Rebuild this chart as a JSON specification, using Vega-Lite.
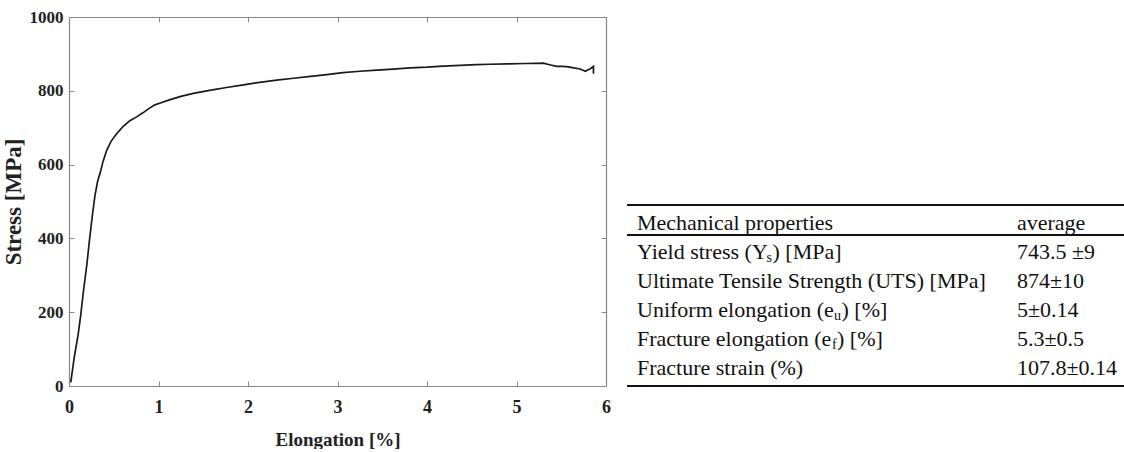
{
  "$schema": "https://vega.github.io/schema/vega-lite/v6.json",
  "background": "white",
  "padding": {"left": 2, "top": 8, "right": 0, "bottom": 0},
  "spacing": 15,
  "config": {"view": {"stroke": null}, "font": "Liberation Serif"},
  "hconcat": [
    {
      "width": 537,
      "height": 369,
      "data": {"values": [
        {"i": 1, "elongation": 0.02, "stress": 10},
        {"i": 2, "elongation": 0.06, "stress": 80},
        {"i": 3, "elongation": 0.10, "stress": 136},
        {"i": 4, "elongation": 0.13, "stress": 190},
        {"i": 5, "elongation": 0.16, "stress": 254},
        {"i": 6, "elongation": 0.20, "stress": 330},
        {"i": 7, "elongation": 0.23, "stress": 398},
        {"i": 8, "elongation": 0.26, "stress": 460},
        {"i": 9, "elongation": 0.29, "stress": 516},
        {"i": 10, "elongation": 0.32, "stress": 555},
        {"i": 11, "elongation": 0.35, "stress": 579},
        {"i": 12, "elongation": 0.38, "stress": 608},
        {"i": 13, "elongation": 0.42, "stress": 638},
        {"i": 14, "elongation": 0.47, "stress": 663},
        {"i": 15, "elongation": 0.53, "stress": 683},
        {"i": 16, "elongation": 0.60, "stress": 702},
        {"i": 17, "elongation": 0.68, "stress": 719},
        {"i": 18, "elongation": 0.76, "stress": 730},
        {"i": 19, "elongation": 0.83, "stress": 741},
        {"i": 20, "elongation": 0.90, "stress": 753},
        {"i": 21, "elongation": 0.96, "stress": 762},
        {"i": 22, "elongation": 1.02, "stress": 767},
        {"i": 23, "elongation": 1.13, "stress": 776},
        {"i": 24, "elongation": 1.25, "stress": 785},
        {"i": 25, "elongation": 1.39, "stress": 793},
        {"i": 26, "elongation": 1.57, "stress": 801},
        {"i": 27, "elongation": 1.76, "stress": 809},
        {"i": 28, "elongation": 1.95, "stress": 816},
        {"i": 29, "elongation": 2.13, "stress": 823},
        {"i": 30, "elongation": 2.32, "stress": 829},
        {"i": 31, "elongation": 2.51, "stress": 834},
        {"i": 32, "elongation": 2.70, "stress": 839},
        {"i": 33, "elongation": 2.88, "stress": 844},
        {"i": 34, "elongation": 3.06, "stress": 849},
        {"i": 35, "elongation": 3.25, "stress": 853},
        {"i": 36, "elongation": 3.44, "stress": 856},
        {"i": 37, "elongation": 3.62, "stress": 859},
        {"i": 38, "elongation": 3.81, "stress": 862},
        {"i": 39, "elongation": 4.00, "stress": 864},
        {"i": 40, "elongation": 4.18, "stress": 867},
        {"i": 41, "elongation": 4.37, "stress": 869},
        {"i": 42, "elongation": 4.55, "stress": 871},
        {"i": 43, "elongation": 4.70, "stress": 872},
        {"i": 44, "elongation": 4.90, "stress": 873},
        {"i": 45, "elongation": 5.10, "stress": 874},
        {"i": 46, "elongation": 5.30, "stress": 875},
        {"i": 47, "elongation": 5.38, "stress": 870},
        {"i": 48, "elongation": 5.45, "stress": 866},
        {"i": 49, "elongation": 5.52, "stress": 866},
        {"i": 50, "elongation": 5.58, "stress": 865},
        {"i": 51, "elongation": 5.64, "stress": 862},
        {"i": 52, "elongation": 5.71, "stress": 859},
        {"i": 53, "elongation": 5.77, "stress": 853},
        {"i": 54, "elongation": 5.80, "stress": 857},
        {"i": 55, "elongation": 5.82, "stress": 859},
        {"i": 56, "elongation": 5.86, "stress": 866},
        {"i": 57, "elongation": 5.86, "stress": 846}
      ]},
      "layer": [
        {
          "mark": {"type": "line", "color": "#1a1a1a", "strokeWidth": 1.7},
          "encoding": {
            "x": {
              "field": "elongation", "type": "quantitative",
              "scale": {"domain": [0, 6], "nice": false, "zero": false},
              "axis": {
                "orient": "bottom", "title": "Elongation [%]", "values": [0, 1, 2, 3, 4, 5, 6], "format": "d",
                "grid": false, "tickSize": -5, "tickColor": "#888", "domainColor": "#888", "domainWidth": 1.2,
                "labelFont": "Liberation Serif", "labelFontWeight": "bold", "labelFontSize": 18, "labelColor": "#222",
                "labelPadding": 17, "labelFlush": false,
                "titleFont": "Liberation Serif", "titleFontWeight": "bold", "titleFontSize": 19, "titleColor": "#222", "titlePadding": 14
              }
            },
            "y": {
              "field": "stress", "type": "quantitative",
              "scale": {"domain": [0, 1000], "nice": false},
              "axis": {
                "orient": "left", "title": "Stress [MPa]", "values": [0, 200, 400, 600, 800, 1000], "format": "d",
                "grid": false, "tickSize": -5, "tickColor": "#888", "domainColor": "#888", "domainWidth": 1.2,
                "labelFont": "Liberation Serif", "labelFontWeight": "bold", "labelFontSize": 17, "labelColor": "#222",
                "labelPadding": 11, "labelFlush": false,
                "titleFont": "Liberation Serif", "titleFontWeight": "bold", "titleFontSize": 23, "titleColor": "#222", "titlePadding": 4
              }
            },
            "order": {"field": "i", "type": "quantitative"}
          }
        },
        {
          "mark": {"type": "line", "opacity": 0},
          "encoding": {
            "x": {
              "field": "elongation", "type": "quantitative",
              "axis": {"orient": "top", "title": null, "labels": false, "values": [0, 1, 2, 3, 4, 5, 6], "grid": false, "tickSize": -5, "tickColor": "#888", "domainColor": "#888", "domainWidth": 1.2}
            },
            "y": {
              "field": "stress", "type": "quantitative",
              "axis": {"orient": "right", "title": null, "labels": false, "values": [0, 200, 400, 600, 800, 1000], "grid": false, "tickSize": -5, "tickColor": "#888", "domainColor": "#888", "domainWidth": 1.2}
            },
            "order": {"field": "i", "type": "quantitative"}
          }
        }
      ],
      "resolve": {"axis": {"x": "independent", "y": "independent"}}
    },
    {
      "width": 497,
      "height": 369,
      "data": {"values": [
        {"row": 0, "col": "property", "part": "main", "text": "Mechanical properties"},
        {"row": 0, "col": "average", "part": "main", "text": "average"},
        {"row": 1, "col": "property", "part": "main", "text": "Yield stress (Y"},
        {"row": 1, "col": "property", "part": "sub", "text": "s"},
        {"row": 1, "col": "property", "part": "suffix", "text": ") [MPa]"},
        {"row": 1, "col": "average", "part": "main", "text": "743.5 ±9"},
        {"row": 2, "col": "property", "part": "main", "text": "Ultimate Tensile Strength (UTS) [MPa]"},
        {"row": 2, "col": "average", "part": "main", "text": "874±10"},
        {"row": 3, "col": "property", "part": "main", "text": "Uniform elongation (e"},
        {"row": 3, "col": "property", "part": "sub", "text": "u"},
        {"row": 3, "col": "property", "part": "suffix", "text": ") [%]"},
        {"row": 3, "col": "average", "part": "main", "text": "5±0.14"},
        {"row": 4, "col": "property", "part": "main", "text": "Fracture elongation (e"},
        {"row": 4, "col": "property", "part": "sub", "text": "f"},
        {"row": 4, "col": "property", "part": "suffix", "text": ") [%]"},
        {"row": 4, "col": "average", "part": "main", "text": "5.3±0.5"},
        {"row": 5, "col": "property", "part": "main", "text": "Fracture strain (%)"},
        {"row": 5, "col": "average", "part": "main", "text": "107.8±0.14"}
      ]},
      "encoding": {
        "y": {"field": "row", "type": "quantitative", "scale": {"domain": [-7.13, 5.64], "reverse": true, "nice": false, "zero": false}, "axis": null},
        "x": {"field": "col", "type": "nominal", "scale": {"type": "point", "domain": ["property", "average"], "range": [10, 390], "padding": 0}, "axis": null}
      },
      "layer": [
        {
          "transform": [{"filter": "datum.part == 'main'"}],
          "mark": {"type": "text", "align": "left", "baseline": "middle", "font": "Liberation Serif", "fontSize": 22, "color": "#111"},
          "encoding": {"text": {"field": "text"}}
        },
        {
          "transform": [{"filter": "datum.part == 'sub' && datum.row == 1"}],
          "mark": {"type": "text", "align": "left", "baseline": "middle", "font": "Liberation Serif", "fontSize": 14, "color": "#111", "dx": 129.5, "dy": 6},
          "encoding": {"text": {"field": "text"}}
        },
        {
          "transform": [{"filter": "datum.part == 'suffix' && datum.row == 1"}],
          "mark": {"type": "text", "align": "left", "baseline": "middle", "font": "Liberation Serif", "fontSize": 22, "color": "#111", "dx": 135.5},
          "encoding": {"text": {"field": "text"}}
        },
        {
          "transform": [{"filter": "datum.part == 'sub' && datum.row == 3"}],
          "mark": {"type": "text", "align": "left", "baseline": "middle", "font": "Liberation Serif", "fontSize": 14, "color": "#111", "dx": 197, "dy": 6},
          "encoding": {"text": {"field": "text"}}
        },
        {
          "transform": [{"filter": "datum.part == 'suffix' && datum.row == 3"}],
          "mark": {"type": "text", "align": "left", "baseline": "middle", "font": "Liberation Serif", "fontSize": 22, "color": "#111", "dx": 204.5},
          "encoding": {"text": {"field": "text"}}
        },
        {
          "transform": [{"filter": "datum.part == 'sub' && datum.row == 4"}],
          "mark": {"type": "text", "align": "left", "baseline": "middle", "font": "Liberation Serif", "fontSize": 14, "color": "#111", "dx": 195, "dy": 6},
          "encoding": {"text": {"field": "text"}}
        },
        {
          "transform": [{"filter": "datum.part == 'suffix' && datum.row == 4"}],
          "mark": {"type": "text", "align": "left", "baseline": "middle", "font": "Liberation Serif", "fontSize": 22, "color": "#111", "dx": 200},
          "encoding": {"text": {"field": "text"}}
        },
        {
          "mark": {"type": "rule", "color": "#111", "strokeWidth": 2},
          "encoding": {"y": {"datum": -0.62}, "x": null}
        },
        {
          "mark": {"type": "rule", "color": "#111", "strokeWidth": 1.5},
          "encoding": {"y": {"datum": 0.415}, "x": null}
        },
        {
          "mark": {"type": "rule", "color": "#111", "strokeWidth": 2},
          "encoding": {"y": {"datum": 5.64}, "x": null}
        }
      ]
    }
  ]
}
